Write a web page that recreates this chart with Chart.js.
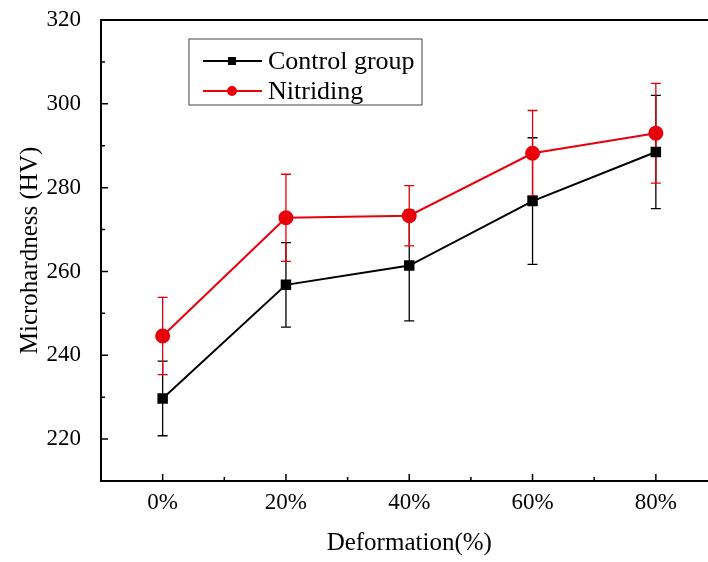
<!DOCTYPE html>
<html>
<head>
<meta charset="utf-8">
<script src="https://cdn.jsdelivr.net/npm/chart.js@4"></script>
<style>
  html, body { margin: 0; padding: 0; background: #fff; overflow: hidden; }
  #wrap { width: 726px; height: 562px; }
</style>
</head>
<body>
<div id="wrap"><canvas id="myChart" width="726" height="562"></canvas></div>
<script>
const categories = ['0%', '20%', '40%', '60%', '80%'];
const controlValues = [229.7, 256.8, 261.4, 276.8, 288.5];
const controlErrors = [8.9, 10.1, 13.2, 15.1, 13.5];
const nitridingValues = [244.6, 272.8, 273.3, 288.2, 293.0];
const nitridingErrors = [9.2, 10.4, 7.2, 10.2, 11.9];
const yTicks = [220, 240, 260, 280, 300, 320];

const serif = '"Liberation Serif", "Times New Roman", serif';

// error bars (under the markers), inward ticks, frame and legend box
const extras = {
    id: 'extras',
    beforeDatasetsDraw(chart) {
        const c = chart.ctx;
        const x = chart.scales.x, y = chart.scales.y;
        c.save();
        chart.data.datasets.forEach((ds, i) => {
            const errs = i === 0 ? controlErrors : nitridingErrors;
            c.strokeStyle = ds.borderColor;
            c.lineWidth = 1.3;
            ds.data.forEach((v, j) => {
                const px = x.getPixelForValue(j);
                const top = y.getPixelForValue(v + errs[j]);
                const bot = y.getPixelForValue(v - errs[j]);
                c.beginPath();
                c.moveTo(px, top); c.lineTo(px, bot);
                c.moveTo(px - 5, top); c.lineTo(px + 5, top);
                c.moveTo(px - 5, bot); c.lineTo(px + 5, bot);
                c.stroke();
            });
        });
        c.restore();
    },
    afterDraw(chart) {
        const c = chart.ctx;
        const x = chart.scales.x, y = chart.scales.y;
        const a = chart.chartArea;
        c.save();
        c.strokeStyle = '#000';
        c.lineWidth = 2;
        c.strokeRect(a.left, a.top, a.right - a.left, a.bottom - a.top);
        c.lineWidth = 1.5;
        c.beginPath();
        for (let v = 210; v <= 320; v += 10) {
            const py = y.getPixelForValue(v);
            const len = v % 20 === 0 ? 7 : 4;
            c.moveTo(a.left, py); c.lineTo(a.left + len, py);
        }
        for (let j = -0.5; j <= categories.length - 0.5; j += 0.5) {
            const px = x.getPixelForValue(j);
            const len = Number.isInteger(j) ? 7 : 4;
            c.moveTo(px, a.bottom); c.lineTo(px, a.bottom - len);
        }
        c.stroke();

        // legend
        const lx = 189, ly = 39, lw = 233, lh = 66;
        c.lineWidth = 1;
        c.strokeStyle = '#444';
        c.strokeRect(lx, ly, lw, lh);
        c.font = '26px ' + serif;
        c.textBaseline = 'middle';
        chart.data.datasets.forEach((ds, i) => {
            const ry = ly + 22 + i * 30;
            c.strokeStyle = ds.borderColor;
            c.lineWidth = 2;
            c.beginPath();
            c.moveTo(lx + 14, ry); c.lineTo(lx + 73, ry);
            c.stroke();
            c.fillStyle = ds.backgroundColor;
            if (ds.pointStyle === 'rect') {
                c.fillRect(lx + 43 - 4, ry - 4, 8, 8);
            } else {
                c.beginPath();
                c.arc(lx + 43, ry, 5, 0, Math.PI * 2);
                c.fill();
            }
            c.fillStyle = '#000';
            c.fillText(ds.label, lx + 79, ry + 1);
        });
        c.restore();
    }
};

const ctx = document.getElementById('myChart').getContext('2d');
const myChart = new Chart(ctx, {
    type: 'line',
    data: {
        labels: categories,
        datasets: [{
            label: 'Control group',
            data: controlValues,
            borderColor: '#000000',
            backgroundColor: '#000000',
            borderWidth: 2,
            pointStyle: 'rect',
            pointRadius: 6,
            tension: 0
        }, {
            label: 'Nitriding',
            data: nitridingValues,
            borderColor: '#e8000b',
            backgroundColor: '#e8000b',
            borderWidth: 2,
            pointStyle: 'circle',
            pointRadius: 6.5,
            tension: 0
        }]
    },
    plugins: [extras],
    options: {
        responsive: false,
        animation: false,
        layout: { padding: { left: 0, top: 20, right: 5, bottom: 0 } },
        plugins: {
            legend: { display: false },
            tooltip: { enabled: false }
        },
        scales: {
            x: {
                type: 'category',
                offset: true,
                grid: { display: false, drawTicks: false },
                border: { display: false },
                ticks: { color: '#000', font: { family: serif, size: 23 }, padding: 8 },
                title: { display: true, text: 'Deformation(%)', color: '#000', font: { family: serif, size: 25 }, padding: { top: 4 } },
                afterFit(scale) {
                    scale.height = 81;
                    scale.paddingLeft = 0;
                    scale.paddingRight = 0;
                }
            },
            y: {
                min: 210,
                max: 320,
                afterBuildTicks(scale) { scale.ticks = yTicks.map(v => ({ value: v })); },
                grid: { display: false, drawTicks: false },
                border: { display: false },
                ticks: { color: '#000', font: { family: serif, size: 23 }, padding: 20 },
                title: { display: true, text: 'Microhardness (HV)', color: '#000', font: { family: serif, size: 25 }, padding: { top: 15, bottom: 4 } },
                afterFit(scale) {
                    scale.width = 101;
                    scale.paddingTop = 0;
                    scale.paddingBottom = 0;
                }
            }
        }
    }
});
</script>
</body>
</html>
